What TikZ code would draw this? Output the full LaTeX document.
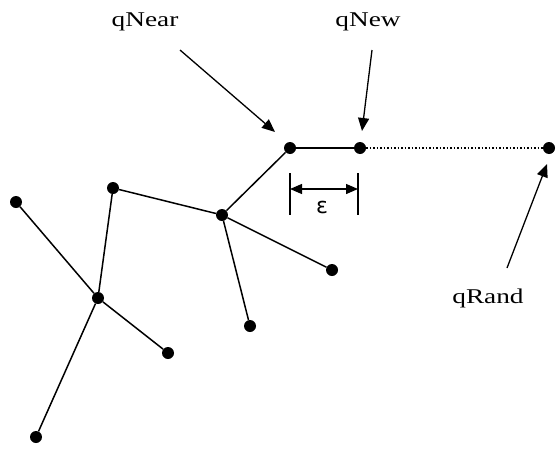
\documentclass[tikz,border=0pt]{standalone}
\usepackage{fontspec}
\setmainfont{Liberation Serif}
\newfontfamily\labfont[FakeStretch=1.3]{Liberation Serif}
\newfontfamily\epsfont{DejaVu Sans}
\usetikzlibrary{arrows.meta}
\begin{document}
\begin{tikzpicture}[x=1pt,y=-1pt,
  dot/.style={circle,fill=black,inner sep=0pt,minimum size=12pt},
  edge/.style={line width=1.5pt},
  lab/.style={font=\labfont\fontsize{21}{24}\selectfont,inner sep=0pt},
  pointer/.style={line width=1.3pt,-{Triangle[length=13pt,width=11pt]}},
  dim/.style={line width=1.3pt,{Triangle[length=12pt,width=10pt]}-{Triangle[length=12pt,width=10pt]}}]
\useasboundingbox (0,0) rectangle (557,450);
\node[dot] (qnear) at (290,148) {};
\node[dot] (qnew) at (360,148) {};
\node[dot] (qrand) at (549,148) {};
\node[dot] (a) at (222,215) {};
\node[dot] (b) at (113,188) {};
\node[dot] (c) at (98,298) {};
\node[dot] (d) at (16,202) {};
\node[dot] (e) at (168,353) {};
\node[dot] (f) at (36,437) {};
\node[dot] (g) at (250,326) {};
\node[dot] (h) at (332,270) {};
\draw[edge] (qnear) -- (a);
\draw[edge] (a) -- (b);
\draw[edge] (a) -- (g);
\draw[edge] (a) -- (h);
\draw[edge] (b) -- (c);
\draw[edge] (c) -- (d);
\draw[edge] (c) -- (e);
\draw[edge] (c) -- (f);
\draw[edge] (qnear) -- (qnew);
\draw[line width=1.5pt,dotted] (qnew) -- (qrand);
\node[lab] (lnear) at (145,22) {qNear};
\node[lab] (lnew) at (368,22) {qNew};
\node[lab] (lrand) at (488,298) {qRand};
\coordinate (nearS) at (180,50);
\coordinate (nearT) at (275,132);
\coordinate (newS) at (372,50);
\coordinate (newT) at (362,131);
\coordinate (randS) at (507,268);
\coordinate (randT) at (547,164);
\draw[pointer] (nearS) -- (nearT);
\draw[pointer] (newS) -- (newT);
\draw[pointer] (randS) -- (randT);
\coordinate (bl1) at (290,173);
\coordinate (bl2) at (290,215);
\coordinate (br1) at (358,173);
\coordinate (br2) at (358,215);
\draw[line width=1.4pt] (bl1) -- (bl2);
\draw[line width=1.4pt] (br1) -- (br2);
\coordinate (dl) at (290,189);
\coordinate (dr) at (358,189);
\draw[dim] (dl) -- (dr);
\node[font=\epsfont\fontsize{22}{24}\selectfont,inner sep=0pt] (eps) at (322,207) {ε};
\end{tikzpicture}
\end{document}
